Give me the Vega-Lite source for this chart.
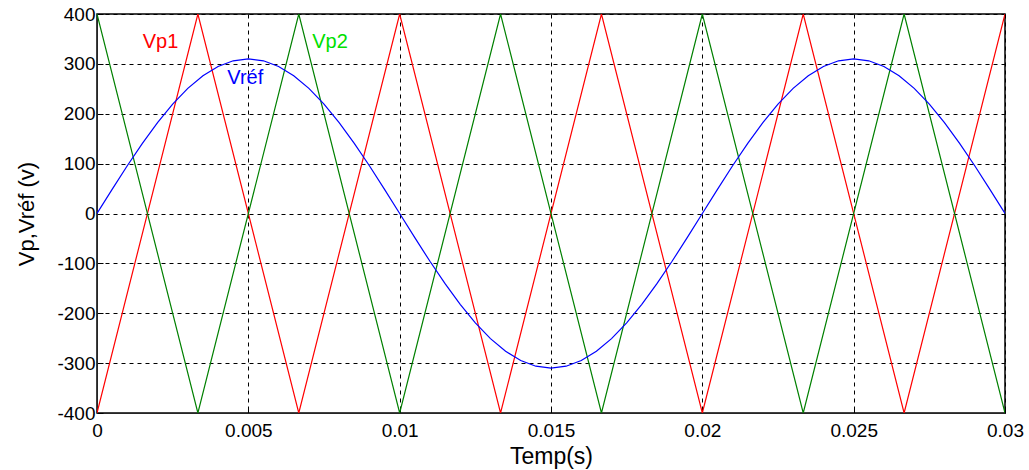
{
  "$schema": "https://vega.github.io/schema/vega-lite/v6.json",
  "width": 908,
  "height": 399,
  "autosize": {"type": "none"},
  "padding": {"left": 97, "top": 14, "right": 24, "bottom": 57},
  "background": "white",
  "config": {
    "font": "Liberation Sans",
    "view": {"stroke": "#000000", "strokeWidth": 1.5},
    "axis": {
      "labelFont": "Liberation Sans",
      "titleFont": "Liberation Sans",
      "labelColor": "#000000",
      "titleColor": "#000000",
      "labelFontSize": 19,
      "titleFontWeight": "normal",
      "domainColor": "#262626",
      "tickColor": "#000000",
      "gridColor": "#000000",
      "gridOpacity": 1,
      "gridDash": [4, 4],
      "gridWidth": 1,
      "tickSize": -6
    }
  },
  "datasets": {
    "series": [
      {"series": "Vp1", "t": 0, "v": -400},
      {"series": "Vp1", "t": 0.0033333, "v": 400},
      {"series": "Vp1", "t": 0.0066667, "v": -400},
      {"series": "Vp1", "t": 0.01, "v": 400},
      {"series": "Vp1", "t": 0.0133333, "v": -400},
      {"series": "Vp1", "t": 0.0166667, "v": 400},
      {"series": "Vp1", "t": 0.02, "v": -400},
      {"series": "Vp1", "t": 0.0233333, "v": 400},
      {"series": "Vp1", "t": 0.0266667, "v": -400},
      {"series": "Vp1", "t": 0.03, "v": 400},
      {"series": "Vp2", "t": 0, "v": 400},
      {"series": "Vp2", "t": 0.0033333, "v": -400},
      {"series": "Vp2", "t": 0.0066667, "v": 400},
      {"series": "Vp2", "t": 0.01, "v": -400},
      {"series": "Vp2", "t": 0.0133333, "v": 400},
      {"series": "Vp2", "t": 0.0166667, "v": -400},
      {"series": "Vp2", "t": 0.02, "v": 400},
      {"series": "Vp2", "t": 0.0233333, "v": -400},
      {"series": "Vp2", "t": 0.0266667, "v": 400},
      {"series": "Vp2", "t": 0.03, "v": -400},
      {"series": "Vref", "t": 0, "v": 0},
      {"series": "Vref", "t": 0.0005, "v": 48.5},
      {"series": "Vref", "t": 0.001, "v": 95.8},
      {"series": "Vref", "t": 0.0015, "v": 140.7},
      {"series": "Vref", "t": 0.002, "v": 182.2},
      {"series": "Vref", "t": 0.0025, "v": 219.2},
      {"series": "Vref", "t": 0.003, "v": 250.8},
      {"series": "Vref", "t": 0.0035, "v": 276.2},
      {"series": "Vref", "t": 0.004, "v": 294.8},
      {"series": "Vref", "t": 0.0045, "v": 306.2},
      {"series": "Vref", "t": 0.005, "v": 310},
      {"series": "Vref", "t": 0.0055, "v": 306.2},
      {"series": "Vref", "t": 0.006, "v": 294.8},
      {"series": "Vref", "t": 0.0065, "v": 276.2},
      {"series": "Vref", "t": 0.007, "v": 250.8},
      {"series": "Vref", "t": 0.0075, "v": 219.2},
      {"series": "Vref", "t": 0.008, "v": 182.2},
      {"series": "Vref", "t": 0.0085, "v": 140.7},
      {"series": "Vref", "t": 0.009, "v": 95.8},
      {"series": "Vref", "t": 0.0095, "v": 48.5},
      {"series": "Vref", "t": 0.01, "v": 0},
      {"series": "Vref", "t": 0.0105, "v": -48.5},
      {"series": "Vref", "t": 0.011, "v": -95.8},
      {"series": "Vref", "t": 0.0115, "v": -140.7},
      {"series": "Vref", "t": 0.012, "v": -182.2},
      {"series": "Vref", "t": 0.0125, "v": -219.2},
      {"series": "Vref", "t": 0.013, "v": -250.8},
      {"series": "Vref", "t": 0.0135, "v": -276.2},
      {"series": "Vref", "t": 0.014, "v": -294.8},
      {"series": "Vref", "t": 0.0145, "v": -306.2},
      {"series": "Vref", "t": 0.015, "v": -310},
      {"series": "Vref", "t": 0.0155, "v": -306.2},
      {"series": "Vref", "t": 0.016, "v": -294.8},
      {"series": "Vref", "t": 0.0165, "v": -276.2},
      {"series": "Vref", "t": 0.017, "v": -250.8},
      {"series": "Vref", "t": 0.0175, "v": -219.2},
      {"series": "Vref", "t": 0.018, "v": -182.2},
      {"series": "Vref", "t": 0.0185, "v": -140.7},
      {"series": "Vref", "t": 0.019, "v": -95.8},
      {"series": "Vref", "t": 0.0195, "v": -48.5},
      {"series": "Vref", "t": 0.02, "v": 0},
      {"series": "Vref", "t": 0.0205, "v": 48.5},
      {"series": "Vref", "t": 0.021, "v": 95.8},
      {"series": "Vref", "t": 0.0215, "v": 140.7},
      {"series": "Vref", "t": 0.022, "v": 182.2},
      {"series": "Vref", "t": 0.0225, "v": 219.2},
      {"series": "Vref", "t": 0.023, "v": 250.8},
      {"series": "Vref", "t": 0.0235, "v": 276.2},
      {"series": "Vref", "t": 0.024, "v": 294.8},
      {"series": "Vref", "t": 0.0245, "v": 306.2},
      {"series": "Vref", "t": 0.025, "v": 310},
      {"series": "Vref", "t": 0.0255, "v": 306.2},
      {"series": "Vref", "t": 0.026, "v": 294.8},
      {"series": "Vref", "t": 0.0265, "v": 276.2},
      {"series": "Vref", "t": 0.027, "v": 250.8},
      {"series": "Vref", "t": 0.0275, "v": 219.2},
      {"series": "Vref", "t": 0.028, "v": 182.2},
      {"series": "Vref", "t": 0.0285, "v": 140.7},
      {"series": "Vref", "t": 0.029, "v": 95.8},
      {"series": "Vref", "t": 0.0295, "v": 48.5},
      {"series": "Vref", "t": 0.03, "v": 0}
    ],
    "labels": [
      {"label": "Vp1", "t": 0.0021, "v": 344, "col": "Vp1"},
      {"label": "Vp2", "t": 0.0077, "v": 344, "col": "Vp2lab"},
      {"label": "Vréf", "t": 0.0049, "v": 272, "col": "Vref"}
    ]
  },
  "layer": [
    {
      "data": {"name": "series"},
      "mark": {"type": "line", "strokeWidth": 1.2, "clip": true},
      "encoding": {
        "x": {
          "field": "t", "type": "quantitative",
          "scale": {"domain": [0, 0.03], "nice": false, "zero": false},
          "axis": {
            "values": [0, 0.005, 0.01, 0.015, 0.02, 0.025, 0.03],
            "format": ".3~f",
            "title": "Temp(s)",
            "titleFontSize": 23,
            "titlePadding": 5,
            "labelPadding": 14,
            "labelFlush": false
          }
        },
        "y": {
          "field": "v", "type": "quantitative",
          "scale": {"domain": [-400, 400], "nice": false},
          "axis": {
            "values": [-400, -300, -200, -100, 0, 100, 200, 300, 400],
            "labelExpr": "'' + datum.value",
            "title": "Vp,Vréf (v)",
            "titleFontSize": 22,
            "titlePadding": 18,
            "labelPadding": 8
          }
        },
        "color": {
          "field": "series", "type": "nominal",
          "scale": {"domain": ["Vp1", "Vp2", "Vref", "Vp2lab"], "range": ["#ff0000", "#008000", "#0000ff", "#00e000"]},
          "legend": null
        },
        "detail": {"field": "series"}
      }
    },
    {
      "data": {"name": "labels"},
      "mark": {"type": "text", "fontSize": 20, "font": "Liberation Sans"},
      "encoding": {
        "x": {"field": "t", "type": "quantitative"},
        "y": {"field": "v", "type": "quantitative"},
        "text": {"field": "label"},
        "color": {"field": "col", "type": "nominal", "legend": null}
      }
    }
  ]
}
